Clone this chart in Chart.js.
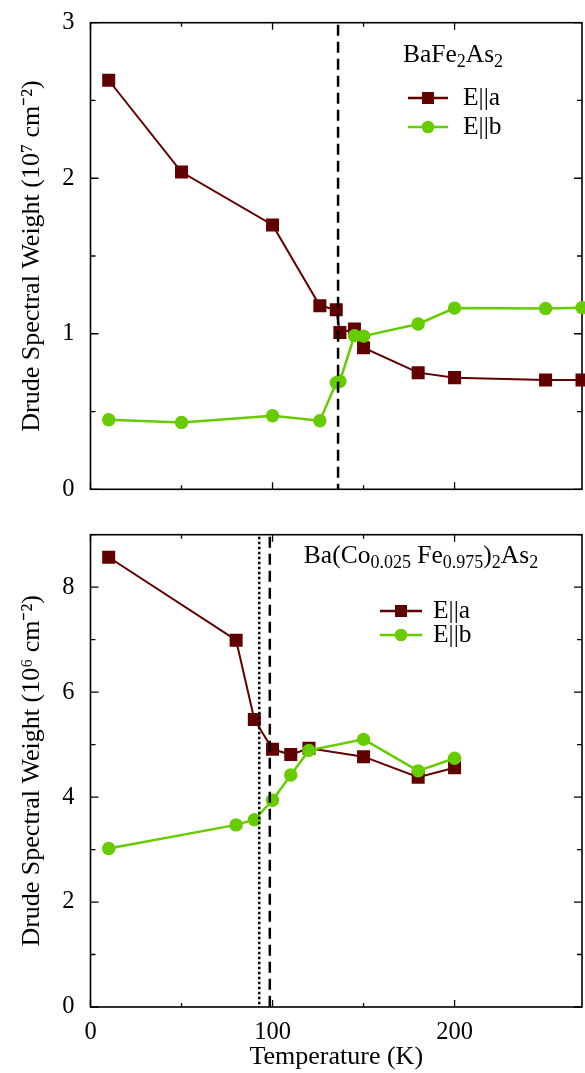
<!DOCTYPE html>
<html>
<head>
<meta charset="utf-8">
<script src="https://cdn.jsdelivr.net/npm/chart.js@4.4.0/dist/chart.umd.min.js"></script>
<style>
  html, body { margin: 0; padding: 0; background: #fff; }
  #wrap { position: relative; width: 585px; height: 1073px; }
  canvas { position: absolute; left: 0; }
  #topChart { top: 0; }
  #bottomChart { top: 512px; }
</style>
</head>
<body>
<div id="wrap">
  <canvas id="topChart" width="585" height="512"></canvas>
  <canvas id="bottomChart" width="585" height="561"></canvas>
</div>
<script>
// BaFe2As2 (top panel)
const topTemp = [10, 50, 100, 126, 135, 137, 145, 150, 180, 200, 250, 270];
const topWeightA = [2.63, 2.04, 1.70, 1.18, 1.155, 1.008, 1.03, 0.91, 0.75, 0.718, 0.702, 0.702];
const topWeightB = [0.447, 0.43, 0.473, 0.441, 0.685, 0.695, 0.988, 0.985, 1.063, 1.165, 1.162, 1.168];

// Ba(Co0.025Fe0.975)2As2 (bottom panel)
const botTemp = [10, 80, 90, 100, 110, 120, 150, 180, 200];
const botWeightA = [8.57, 6.99, 5.48, 4.91, 4.81, 4.93, 4.77, 4.38, 4.56];
const botWeightB = [3.02, 3.47, 3.57, 3.94, 4.42, 4.89, 5.10, 4.50, 4.74];

// transition temperatures (vertical markers)
const topDashedT = [136];
const botDottedT = [92.7];
const botDashedT = [98.5];

// tick labels
const xTickLabels = [0, 100, 200];
const topYTickLabels = [0, 1, 2, 3];
const botYTickLabels = [0, 2, 4, 6, 8];

const seriesNames = ['E||a', 'E||b'];
const RED = '#600000';
const GREEN = '#66cc00';
const FONT = "'Liberation Serif', 'Times New Roman', serif";

function pts(xs, ys) {
  return xs.map((x, i) => ({ x: x, y: ys[i] }));
}

// inward ticks on all four sides + box frame
const frameTicks = {
  id: 'frameTicks',
  beforeDatasetsDraw(chart, args, opts) {
    const { ctx, chartArea: a, scales: { x, y } } = chart;
    ctx.save();
    ctx.strokeStyle = '#000';
    ctx.lineWidth = 1.3;
    x.ticks.forEach(t => {
      if (t.value % 50 !== 0) return;
      const px = x.getPixelForValue(t.value);
      const len = xTickLabels.includes(t.value) ? 7 : 4;
      ctx.beginPath();
      ctx.moveTo(px, a.bottom); ctx.lineTo(px, a.bottom - len);
      ctx.moveTo(px, a.top); ctx.lineTo(px, a.top + len);
      ctx.stroke();
    });
    y.ticks.forEach(t => {
      const py = y.getPixelForValue(t.value);
      const len = opts.yMajor.includes(t.value) ? 8 : 5;
      ctx.beginPath();
      ctx.moveTo(a.left, py); ctx.lineTo(a.left + len, py);
      ctx.moveTo(a.right, py); ctx.lineTo(a.right - len, py);
      ctx.stroke();
    });
    ctx.lineWidth = 1.6;
    ctx.strokeRect(a.left, a.top, a.right - a.left, a.bottom - a.top);
    ctx.restore();
  }
};

// vertical transition lines
const transitions = {
  id: 'transitions',
  afterDatasetsDraw(chart, args, opts) {
    const { ctx, chartArea: a, scales: { x } } = chart;
    ctx.save();
    ctx.strokeStyle = '#000';
    ctx.lineWidth = 2.5;
    (opts.lines || []).forEach(l => {
      l.values.forEach(v => {
        const px = x.getPixelForValue(v);
        ctx.setLineDash(l.dash);
        ctx.beginPath();
        ctx.moveTo(px, a.top + 2);
        ctx.lineTo(px, a.bottom);
        ctx.stroke();
      });
    });
    ctx.restore();
  }
};

// text with subscripts: segments [text, isSub]
function drawRich(ctx, segs, cx, cy, size) {
  const big = size + 'px ' + FONT;
  const small = Math.round(size * 0.72) + 'px ' + FONT;
  let w = 0;
  segs.forEach(s => { ctx.font = s[1] ? small : big; w += ctx.measureText(s[0]).width; });
  let x = cx - w / 2;
  ctx.textBaseline = 'middle';
  ctx.textAlign = 'left';
  segs.forEach(s => {
    ctx.font = s[1] ? small : big;
    ctx.fillText(s[0], x, s[1] ? cy + 7 : cy);
    x += ctx.measureText(s[0]).width;
  });
}

const panelLegend = {
  id: 'panelLegend',
  afterDraw(chart, args, o) {
    const { ctx } = chart;
    ctx.save();
    ctx.fillStyle = '#000';
    drawRich(ctx, o.title, o.cx, o.titleY, 25.5);
    chart.data.datasets.forEach((ds, i) => {
      const yy = o.rows[i];
      const mx = (o.x0 + o.x1) / 2;
      ctx.strokeStyle = ds.borderColor;
      ctx.lineWidth = 2.5;
      ctx.beginPath();
      ctx.moveTo(o.x0, yy); ctx.lineTo(o.x1, yy);
      ctx.stroke();
      ctx.fillStyle = ds.backgroundColor;
      if (ds.pointStyle === 'rect') {
        ctx.fillRect(mx - 6, yy - 6, 12, 12);
      } else {
        ctx.beginPath();
        ctx.arc(mx, yy, 6.3, 0, Math.PI * 2);
        ctx.fill();
      }
      ctx.fillStyle = '#000';
      ctx.font = '25.5px ' + FONT;
      ctx.textAlign = 'left';
      ctx.textBaseline = 'middle';
      ctx.fillText(ds.label, o.textX, yy);
    });
    ctx.restore();
  }
};

function makePanel(id, cfg) {
  return new Chart(document.getElementById(id), {
    type: 'line',
    data: {
      datasets: [
        {
          label: seriesNames[0], data: pts(cfg.temp, cfg.a),
          borderColor: RED, backgroundColor: RED, borderWidth: 2,
          pointStyle: 'rect', pointRadius: 9.2, pointHoverRadius: 9.2,
          pointBorderWidth: 0, tension: 0, clip: 12, order: 1
        },
        {
          label: seriesNames[1], data: pts(cfg.temp, cfg.b),
          borderColor: GREEN, backgroundColor: GREEN, borderWidth: 2.5,
          pointStyle: 'circle', pointRadius: 6.7, pointHoverRadius: 6.7,
          pointBorderWidth: 0, tension: 0, clip: 12, order: 0
        }
      ]
    },
    options: {
      responsive: false,
      animation: false,
      layout: { autoPadding: false, padding: { left: 0, right: 3, top: cfg.padTop, bottom: 0 } },
      scales: {
        x: {
          type: 'linear', min: 0, max: 270,
          grid: { display: false }, border: { display: false },
          ticks: {
            display: cfg.showX, stepSize: 50, padding: 3, color: '#000',
            font: { family: FONT, size: 24.5 }, maxRotation: 0,
            callback: v => xTickLabels.includes(v) ? String(v) : ''
          },
          title: {
            display: cfg.showX, text: 'Temperature (K)', color: '#000',
            font: { family: FONT, size: 26 }, padding: { top: 0, bottom: 0 }
          },
          afterFit: s => { s.height = cfg.xHeight; }
        },
        y: {
          min: 0, max: cfg.yMax,
          grid: { display: false }, border: { display: false },
          ticks: {
            stepSize: cfg.yStep, padding: 8, color: '#000',
            font: { family: FONT, size: 24.5 },
            callback: v => cfg.yLabels.includes(v) ? String(v) : ''
          },
          title: {
            display: true, text: cfg.yTitle, color: '#000',
            font: { family: FONT, size: 26 }, padding: { top: 17, bottom: 0 }
          },
          afterFit: s => { s.width = 90.5; }
        }
      },
      plugins: {
        legend: { display: false },
        tooltip: { enabled: false },
        frameTicks: { yMajor: cfg.yLabels },
        transitions: { lines: cfg.lines },
        panelLegend: cfg.legend
      }
    },
    plugins: [frameTicks, transitions, panelLegend]
  });
}

makePanel('topChart', {
  temp: topTemp, a: topWeightA, b: topWeightB,
  padTop: 18, xHeight: 4.5, showX: false,
  yMax: 3, yStep: 0.5, yLabels: topYTickLabels,
  yTitle: 'Drude Spectral Weight (10\u2077 cm\u207B\u00B2)',
  lines: [{ values: topDashedT, dash: [11, 6] }],
  legend: {
    title: [['BaFe', 0], ['2', 1], ['As', 0], ['2', 1]],
    cx: 453, titleY: 55, x0: 408, x1: 448, textX: 463, rows: [98, 127]
  }
});

makePanel('bottomChart', {
  temp: botTemp, a: botWeightA, b: botWeightB,
  padTop: 4.5, xHeight: 66, showX: true,
  yMax: 9, yStep: 1, yLabels: botYTickLabels,
  yTitle: 'Drude Spectral Weight (10\u2076 cm\u207B\u00B2)',
  lines: [
    { values: botDottedT, dash: [2.5, 2.5] },
    { values: botDashedT, dash: [11, 6] }
  ],
  legend: {
    title: [['Ba(Co', 0], ['0.025', 1], [' Fe', 0], ['0.975', 1], [')', 0], ['2', 1], ['As', 0], ['2', 1]],
    cx: 421, titleY: 44, x0: 380, x1: 422, textX: 433, rows: [99, 123]
  }
});
</script>
</body>
</html>
